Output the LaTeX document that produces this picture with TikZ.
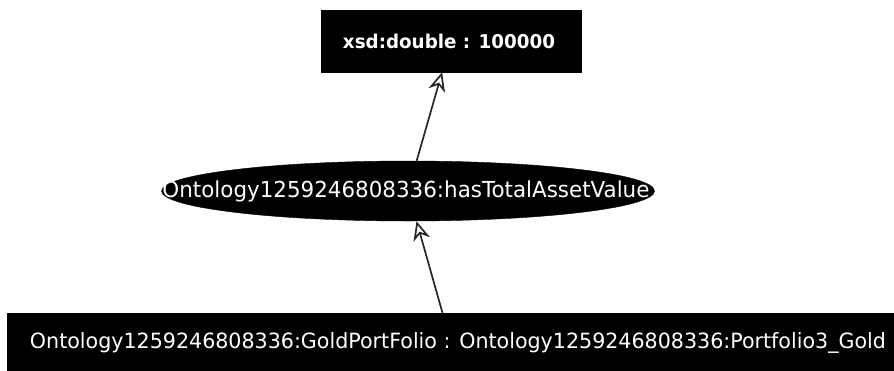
\documentclass[tikz,border=0pt]{standalone}
\usepackage{fontspec}
\setmainfont{DejaVu Sans}
\usetikzlibrary{arrows.meta,shapes.geometric}

\begin{document}
\begin{tikzpicture}[x=1pt,y=-1pt,
  blackbox/.style={fill=black,draw=black,inner sep=0pt,text=white},
  blackoval/.style={ellipse,fill=black,draw=black,inner sep=0pt},
  link/.style={draw=black!85,line width=1.7pt,-{Stealth[open,length=19pt,width=17pt,inset=6pt]}}]
  \useasboundingbox (0,0) rectangle (894,370);

  \node[blackbox,minimum width=260pt,minimum height=62pt,font=\bfseries\fontsize{19}{22}\selectfont] (value) at (451,41)
    {\hspace*{-4pt}\resizebox{212pt}{\height}{xsd:double : 100000}};

  \node[blackoval,minimum width=493pt,minimum height=60pt] (prop) at (408,191) {};
  \node[text=white,inner sep=0pt,font=\fontsize{22}{26}\selectfont] (proptxt) at (406,191)
    {\resizebox{487pt}{\height}{Ontology1259246808336:hasTotalAssetValue}};

  \node[blackbox,minimum width=888pt,minimum height=60pt,font=\fontsize{21}{25}\selectfont] (subj) at (451,343)
    {\hspace*{14pt}\resizebox{856pt}{\height}{Ontology1259246808336:GoldPortFolio : Ontology1259246808336:Portfolio3\_Gold}};

  \draw[link] (prop) -- (value);
  \draw[link] (subj) -- (prop);
\end{tikzpicture}
\end{document}
